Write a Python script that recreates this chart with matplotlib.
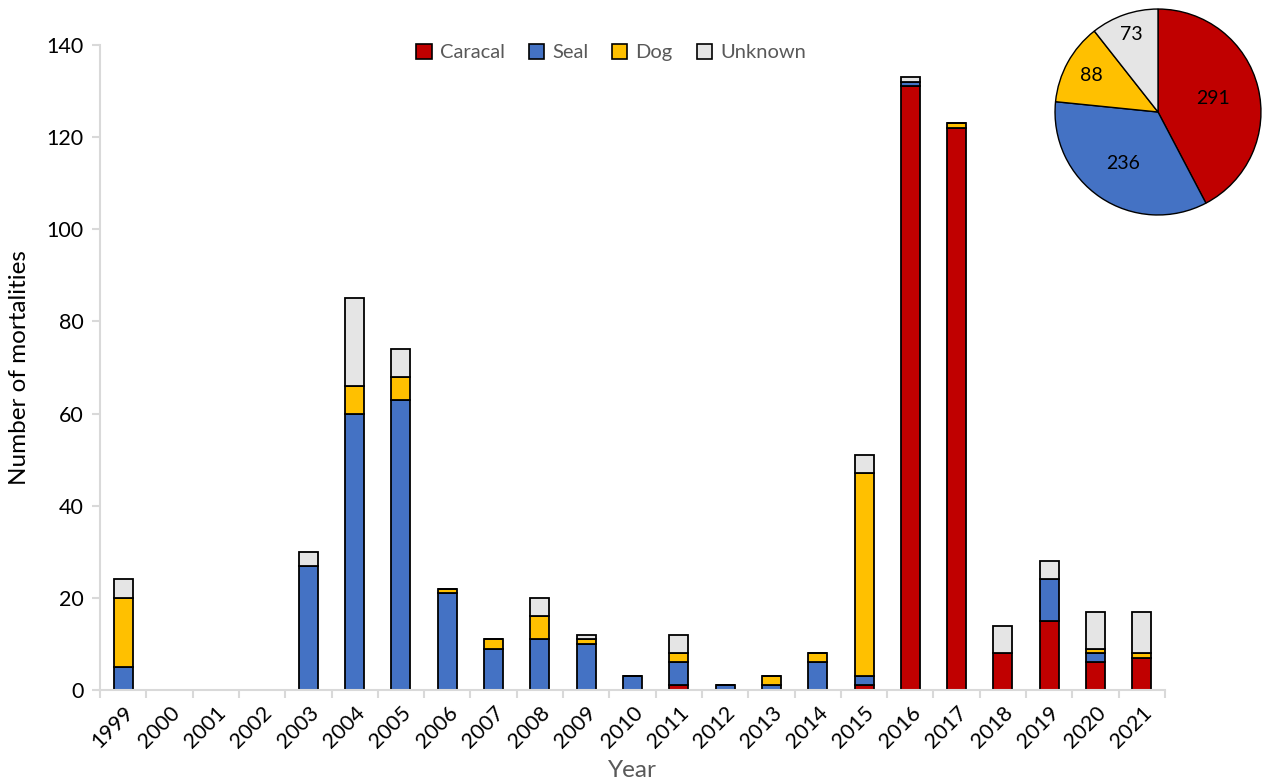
import numpy as np
import matplotlib.pyplot as plt
from matplotlib.patches import Patch

plt.rcParams['font.family'] = ['Lato', 'DejaVu Sans']

# Mortalities per year by cause
years = [str(y) for y in range(1999, 2022)]
caracal = [0, 0, 0, 0, 0, 0, 0, 0, 0, 0, 0, 0, 1, 0, 0, 0, 1, 131, 122, 8, 15, 6, 7]
seal = [5, 0, 0, 0, 27, 60, 63, 21, 9, 11, 10, 3, 5, 1, 1, 6, 2, 1, 0, 0, 9, 2, 0]
dog = [15, 0, 0, 0, 0, 6, 5, 1, 2, 5, 1, 0, 2, 0, 2, 2, 44, 0, 1, 0, 0, 1, 1]
unknown = [4, 0, 0, 0, 3, 19, 6, 0, 0, 4, 1, 0, 4, 0, 0, 0, 4, 1, 0, 6, 4, 8, 9]

causes = ['Caracal', 'Seal', 'Dog', 'Unknown']
colors = ['#C00000', '#4472C4', '#FFC000', '#E5E5E5']
series = [caracal, seal, dog, unknown]

fig = plt.figure(figsize=(12.69, 7.83), dpi=100)
ax = fig.add_axes([100 / 1269, 1 - 690 / 783, 1065 / 1269, 645 / 783])

x = np.arange(len(years))
bottom = np.zeros(len(years))
for vals, col in zip(series, colors):
    v = np.array(vals, dtype=float)
    ax.bar(x, v, width=0.41, bottom=bottom, color=col, edgecolor='black', linewidth=1.3)
    bottom += v

ax.set_xlim(-0.5, len(years) - 0.5)
ax.set_ylim(0, 140)
ax.set_yticks(range(0, 141, 20))
ax.set_xticks(x)
ax.set_xticklabels(years, rotation=45, ha='right', rotation_mode='anchor', fontsize=15.5)
ax.set_xticks(np.arange(-0.5, len(years)), minor=True)
ax.tick_params(axis='x', which='major', length=0, pad=9)
ax.tick_params(axis='x', which='minor', length=6, width=1.5, color='#D9D9D9')
ax.tick_params(axis='y', length=6, width=1.5, color='#D9D9D9', labelsize=15.5, pad=6)

for side in ['top', 'right']:
    ax.spines[side].set_visible(False)
for side in ['left', 'bottom']:
    ax.spines[side].set_color('#D9D9D9')
    ax.spines[side].set_linewidth(1.5)

ax.set_ylabel('Number of mortalities', fontsize=17.5)
ax.yaxis.set_label_coords(-0.066, 0.5)
ax.set_xlabel('Year', fontsize=17.5, color='#595959', labelpad=0)
ax.xaxis.set_label_coords(0.5, -0.108)

handles = [Patch(facecolor=c, edgecolor='black', linewidth=1.2) for c in colors]
ax.legend(handles, causes, loc='upper center', bbox_to_anchor=(0.48, 1.03), ncol=4,
          frameon=False, fontsize=14.5, labelcolor='#595959', handlelength=0.75,
          handleheight=0.75, handletextpad=0.4, columnspacing=1.2)

# Totals per cause
totals = [sum(s) for s in series]
pax = fig.add_axes([(1158 - 104) / 1269, 1 - (112 + 104) / 783, 208 / 1269, 208 / 783])
wedges, _ = pax.pie(totals, colors=colors, startangle=90, counterclock=False,
                    wedgeprops=dict(edgecolor='black', linewidth=1.0))
label_r = [0.55, 0.6, 0.74, 0.8]
for w, t, r in zip(wedges, totals, label_r):
    ang = np.deg2rad((w.theta1 + w.theta2) / 2)
    pax.text(r * np.cos(ang), r * np.sin(ang), str(t), ha='center', va='center', fontsize=14)
pax.set_xlim(-1.01, 1.01)
pax.set_ylim(-1.01, 1.01)
pax.set_aspect('equal')

fig.savefig('out.png', dpi=100)
